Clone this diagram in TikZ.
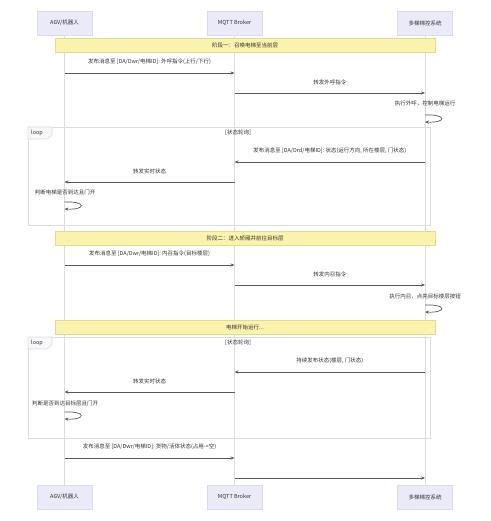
\documentclass[tikz,border=0pt]{standalone}
\usepackage{fontspec}
\setmainfont{Noto Sans CJK SC}
\usetikzlibrary{arrows.meta}
\definecolor{actfill}{HTML}{EAEAF8}
\definecolor{actline}{HTML}{DADAEE}
\definecolor{notefill}{HTML}{FAF3AE}
\definecolor{noteline}{HTML}{E6DA8C}
\definecolor{lifecol}{HTML}{DDDDDD}
\definecolor{msgcol}{HTML}{5A5A5A}
\definecolor{txtcol}{HTML}{333333}
\begin{document}
\begin{tikzpicture}[x=1pt,y=-1pt,
  small/.style={font=\fontsize{5.5}{6.5}\selectfont, text=txtcol},
  actor/.style={small, draw=actline, fill=actfill, minimum width=55pt, minimum height=24pt, inner sep=0pt},
  notebox/.style={small, draw=noteline, fill=notefill, minimum width=380pt, minimum height=14pt, inner sep=0pt},
  msgline/.style={draw=msgcol, line width=0.7pt, -{Stealth[length=4pt,width=3.2pt]}},
  lbl/.style={small, inner sep=0pt},
  life/.style={draw=lifecol, line width=0.7pt},
  framebox/.style={draw=lifecol, line width=0.6pt},
  looptag/.style={small, inner sep=0pt, anchor=west}
]
\fill[white] (0,0) rectangle (490,521);
\useasboundingbox (0,0) rectangle (490,521);

% actors
\node[actor] (a1) at (64.5,23) {AGV/机器人};
\node[actor] (b1) at (234.5,23) {MQTT Broker};
\node[actor] (c1) at (425,23) {多梯梯控系统};
\node[actor] (a2) at (64.5,497) {AGV/机器人};
\node[actor] (b2) at (234.5,497) {MQTT Broker};
\node[actor] (c2) at (425,497) {多梯梯控系统};

% lifelines
\draw[life] (a1.south) -- (a2.north);
\draw[life] (b1.south) -- (b2.north);
\draw[life] (c1.south) -- (c2.north);

% loop frames
\draw[framebox] (28,127) rectangle (430,225);
\draw[framebox, fill=actfill!40] (28,127) -- (52,127) -- (52,135) -- (47,139) -- (28,139) -- cycle;
\node[looptag] (l1) at (31,132.5) {loop};
\node[lbl] (l1c) at (238,132.5) {[状态轮询]};

\draw[framebox] (28,337) rectangle (430,438);
\draw[framebox, fill=actfill!40] (28,337) -- (52,337) -- (52,345) -- (47,349) -- (28,349) -- cycle;
\node[looptag] (l2) at (31,342.5) {loop};
\node[lbl] (l2c) at (238,342.5) {[状态轮询]};

% notes
\node[notebox] (n1) at (245,45.5) {阶段一：召唤电梯至当前层};
\node[notebox] (n2) at (245,238.5) {阶段二：进入轿厢并前往目标层};
\node[notebox] (n3) at (245,327.5) {电梯开始运行...};

% message end points
\coordinate (m1a) at (64.5,73);  \coordinate (m1b) at (234.5,73);
\coordinate (m2a) at (234.5,93); \coordinate (m2b) at (425,93);
\coordinate (s1a) at (425,115);  \coordinate (s1b) at (425,122);
\coordinate (m3a) at (425,162);  \coordinate (m3b) at (234.5,162);
\coordinate (m4a) at (234.5,182); \coordinate (m4b) at (64.5,182);
\coordinate (s2a) at (64.5,202); \coordinate (s2b) at (64.5,209);
\coordinate (m5a) at (64.5,265); \coordinate (m5b) at (234.5,265);
\coordinate (m6a) at (234.5,285); \coordinate (m6b) at (425,285);
\coordinate (s3a) at (425,305);  \coordinate (s3b) at (425,312);
\coordinate (m7a) at (425,372);  \coordinate (m7b) at (234.5,372);
\coordinate (m8a) at (234.5,392); \coordinate (m8b) at (64.5,392);
\coordinate (s4a) at (64.5,412); \coordinate (s4b) at (64.5,419);
\coordinate (m9a) at (64.5,458); \coordinate (m9b) at (234.5,458);
\coordinate (m10a) at (234.5,478); \coordinate (m10b) at (425,478);

% phase 1
\draw[msgline] (m1a) -- node[lbl, above=8pt] (t1) {发布消息至 [DA/Dwr/电梯ID]: 外呼指令(上行/下行)} (m1b);
\draw[msgline] (m2a) -- node[lbl, above=8pt] (t2) {转发外呼指令} (m2b);
\node[lbl] (t3) at (425,103.5) {执行外呼，控制电梯运行};
\draw[msgline] (s1a) .. controls +(22,-1) and +(22,1) .. (s1b);

% loop 1
\draw[msgline] (m3a) -- node[lbl, above=8pt] (t4) {发布消息至 [DA/Drd/电梯ID]: 状态(运行方向, 所在楼层, 门状态)} (m3b);
\draw[msgline] (m4a) -- node[lbl, above=8pt] (t5) {转发实时状态} (m4b);
\node[lbl] (t6) at (65,192) {判断电梯是否到达且门开};
\draw[msgline] (s2a) .. controls +(22,-1) and +(22,1) .. (s2b);

% phase 2
\draw[msgline] (m5a) -- node[lbl, above=8pt] (t7) {发布消息至 [DA/Dwr/电梯ID]: 内召指令(目标楼层)} (m5b);
\draw[msgline] (m6a) -- node[lbl, above=8pt] (t8) {转发内召指令} (m6b);
\node[lbl] (t9) at (425,296.5) {执行内召，点亮目标楼层按钮};
\draw[msgline] (s3a) .. controls +(22,-1) and +(22,1) .. (s3b);

% loop 2
\draw[msgline] (m7a) -- node[lbl, above=8pt] (t10) {持续发布状态(楼层, 门状态)} (m7b);
\draw[msgline] (m8a) -- node[lbl, above=8pt] (t11) {转发实时状态} (m8b);
\node[lbl] (t12) at (65,403) {判断是否到达目标层且门开};
\draw[msgline] (s4a) .. controls +(22,-1) and +(22,1) .. (s4b);

% final
\draw[msgline] (m9a) -- node[lbl, above=8pt] (t13) {发布消息至 [DA/Dwr/电梯ID]: 货物/活体状态(占用->空)} (m9b);
\draw[msgline] (m10a) -- (m10b);
\end{tikzpicture}
\end{document}
